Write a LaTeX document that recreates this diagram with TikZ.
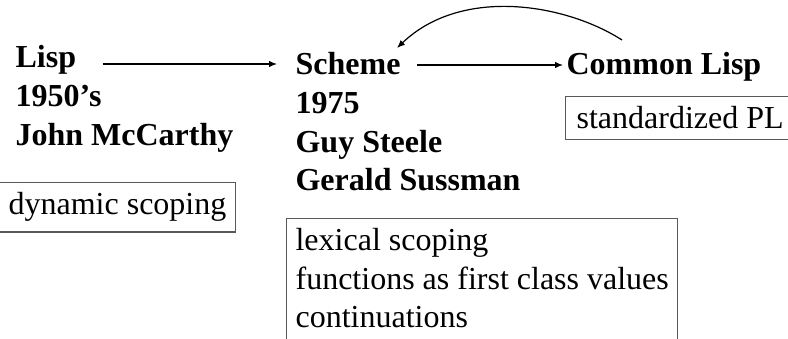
\documentclass[tikz,border=0pt]{standalone}
\usepackage{fontspec}
\setmainfont{Liberation Serif}
\usetikzlibrary{arrows.meta}

\begin{document}
\begin{tikzpicture}[x=1pt, y=-1pt, line width=1.2pt,
  lang/.style = {inner sep=0, anchor=base west, align=left, font=\fontsize{32}{38.4}\selectfont\bfseries},
  note/.style = {draw=black!65, inner xsep=9pt, inner ysep=10pt, align=left, font=\fontsize{32}{38.4}\selectfont},
  link/.style = {-{Latex[length=8pt,width=6.5pt]}}]
\useasboundingbox (0,0) rectangle (788,339);
% languages
\node[lang] (lisp) at (15,67.5) {Lisp};
\node[lang, anchor=north west] (lispinfo) at (15,84.8) {1950's\\John McCarthy};
\node[lang] (scheme) at (295,75) {Scheme};
\node[lang, anchor=north west] (schemeinfo) at (295,91.9) {1975\\Guy Steele\\Gerald Sussman};
\node[lang] (common) at (566,75) {Common Lisp};
% notes
\node[note, anchor=base west] (dyn) at (-1,215) {dynamic scoping};
\node[note, anchor=north west, text depth=25pt] (lex) at (286,218) {lexical scoping\\functions as first class values\\continuations};
\node[note, anchor=base west, inner xsep=11pt] (std) at (565,129) {standardized PL};
% arrows
\draw[link] ([shift={(26,-3.5)}]lisp.base east) -- ([shift={(-18,-11)}]scheme.base west);
\draw[link] ([shift={(16,-10)}]scheme.base east) -- ([shift={(-3,-10)}]common.base west);
\draw[link] ([shift={(56,-35)}]common.base west) .. controls (566,4) and (462,-14) .. ([shift={(102,-27)}]scheme.base west);
\end{tikzpicture}
\end{document}
